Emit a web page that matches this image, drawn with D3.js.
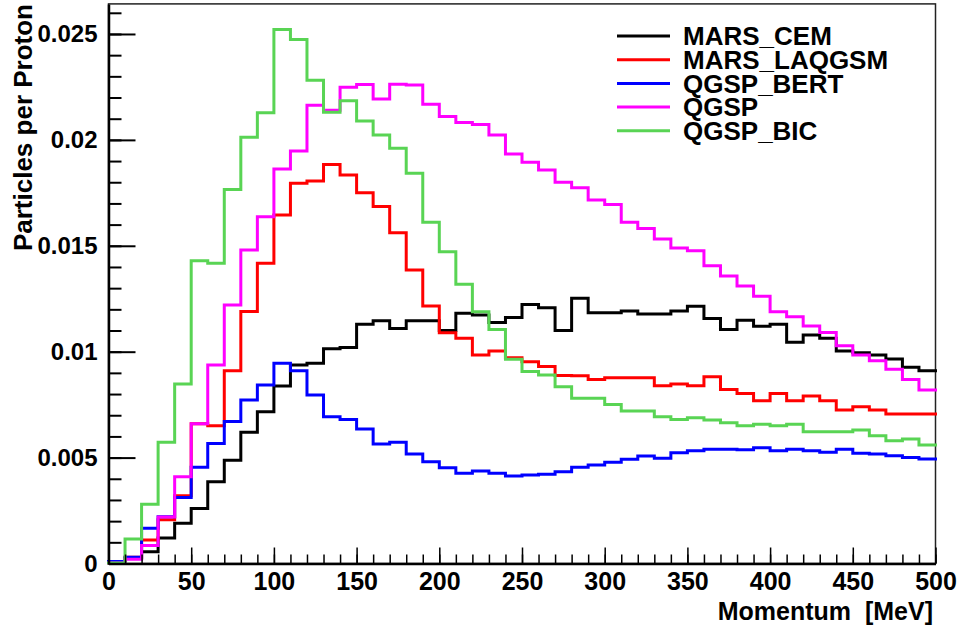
<!DOCTYPE html>
<html><head><meta charset="utf-8">
<script src="https://cdn.jsdelivr.net/npm/d3@7/dist/d3.min.js"></script>
<style>
body{margin:0;background:#fff}
text{font-family:"Liberation Sans",Arial,Helvetica,sans-serif;font-weight:bold;fill:#000}
</style>
</head><body>
<svg id="chart" width="962" height="629"></svg>
<script>
// Momentum bin lower edges [MeV]
const binStarts = [0,10,20,30,40,50,60,70,80,90,100,110,120,130,140,150,160,170,180,190,
  200,210,220,230,240,250,260,270,280,290,300,310,320,330,340,350,360,370,380,390,
  400,410,420,430,440,450,460,470,480,490];
const xMax = 500;

const seriesNames = ["MARS_CEM","MARS_LAQGSM","QGSP_BERT","QGSP","QGSP_BIC"];

const marsCEM = [0.00004,0.00024,0.00056,0.0012,0.0019,0.0026,0.00386,0.00487,0.0062,0.00717,
  0.00838,0.00937,0.00945,0.01014,0.0102,0.0113,0.01146,0.0111,0.01146,0.01146,
  0.011,0.01181,0.01173,0.01138,0.01162,0.01223,0.01207,0.011,0.01252,0.01184,
  0.01184,0.01192,0.01178,0.01178,0.01192,0.01215,0.01157,0.01105,0.01149,0.0112,
  0.0113,0.01044,0.01079,0.01063,0.01003,0.00995,0.00984,0.00965,0.00926,0.0091];

const marsLAQGSM = [0.00004,0.0003,0.00111,0.00207,0.0032,0.0066,0.0065,0.0091,0.0119,0.01417,
  0.01645,0.01795,0.01806,0.01884,0.01834,0.0175,0.01685,0.01562,0.01386,0.01216,
  0.0109,0.01063,0.00984,0.01003,0.00971,0.00952,0.0093,0.00888,0.00886,0.00869,
  0.00877,0.00877,0.00877,0.00839,0.00847,0.00839,0.00882,0.00822,0.00803,0.00768,
  0.00803,0.00768,0.00791,0.00768,0.00725,0.0074,0.00725,0.00706,0.00706,0.00706];

const qgspBERT = [0.0001,0.0003,0.00166,0.00221,0.00312,0.00454,0.00566,0.0067,0.00772,0.00843,
  0.00945,0.0091,0.00795,0.00693,0.0068,0.00635,0.00564,0.00572,0.00517,0.0048,
  0.00452,0.00426,0.00437,0.00426,0.00413,0.00418,0.00421,0.00433,0.00454,0.00465,
  0.00478,0.00492,0.00507,0.00497,0.00523,0.00532,0.00539,0.00539,0.00537,0.00547,
  0.00532,0.00539,0.00532,0.00525,0.00539,0.0052,0.00517,0.00509,0.00501,0.00493];

const qgsp = [0.00002,0.0002,0.00085,0.0022,0.0041,0.0066,0.00937,0.0122,0.0148,0.01637,
  0.01862,0.01947,0.02164,0.0214,0.02248,0.02262,0.02193,0.02263,0.02259,0.02168,
  0.0211,0.02082,0.02073,0.02023,0.01933,0.01894,0.01858,0.018,0.01774,0.01716,
  0.01695,0.01611,0.01582,0.01532,0.0149,0.01476,0.01406,0.01357,0.0131,0.01262,
  0.01189,0.01165,0.01121,0.01091,0.01028,0.00984,0.00957,0.00917,0.00869,0.00819];

const qgspBIC = [0.00002,0.00116,0.0028,0.00573,0.00848,0.01429,0.01417,0.01766,0.02012,0.02128,
  0.02521,0.02474,0.02282,0.0213,0.02185,0.02089,0.02023,0.0196,0.01842,0.01611,
  0.01472,0.01318,0.01189,0.01105,0.00964,0.00906,0.0089,0.00835,0.0078,0.0078,
  0.00751,0.0072,0.0072,0.00693,0.0068,0.00688,0.00677,0.00665,0.0065,0.00658,
  0.0065,0.00657,0.00622,0.00622,0.00622,0.0063,0.00603,0.0058,0.00588,0.0056];

const seriesValues = [marsCEM, marsLAQGSM, qgspBERT, qgsp, qgspBIC];
const seriesColors = ["#000000","#ff0000","#0000ff","#ff00ff","#59d454"];

const xTickValues = [0,50,100,150,200,250,300,350,400,450,500];
const xTickLabels = ["0","50","100","150","200","250","300","350","400","450","500"];
const yTickValues = [0,0.005,0.01,0.015,0.02,0.025];
const yTickLabels = ["0","0.005","0.01","0.015","0.02","0.025"];
const yMax = 0.02642;
const xTitle = "Momentum  [MeV]";
const yTitle = "Particles per Proton";

const L = 108.5, R = 935.5, T = 3.9, B = 563.5;
const svg = d3.select("#chart");
const x = d3.scaleLinear().domain([0, xMax]).range([L, R]);
const y = d3.scaleLinear().domain([0, yMax]).range([B, T]);

// frame
svg.append("rect").attr("x", L).attr("y", T).attr("width", R - L).attr("height", B - T)
  .attr("fill", "none").attr("stroke", "#222").attr("stroke-width", 1.5);

// histograms
const line = d3.line().x(d => x(d[0])).y(d => y(d[1])).curve(d3.curveStepAfter);
seriesValues.forEach((vals, s) => {
  const pts = binStarts.map((b, i) => [b, vals[i]]);
  pts.push([xMax, vals[vals.length - 1]]);
  svg.append("path").attr("d", line(pts)).attr("fill", "none")
    .attr("stroke", seriesColors[s]).attr("stroke-width", 3)
    .attr("stroke-linejoin", "miter").attr("stroke-linecap", "square");
});

// y axis minor ticks
const yMinor = d3.range(0, 0.0265, 0.001);
svg.append("g").attr("transform", `translate(${L},0)`)
  .call(d3.axisLeft(y).tickValues(yMinor).tickSizeInner(-13).tickSizeOuter(0).tickFormat(""))
  .call(g => { g.select(".domain").remove(); g.selectAll("line").attr("stroke", "#000").attr("stroke-width", 2); });
// y axis major
svg.append("g").attr("transform", `translate(${L},0)`)
  .call(d3.axisLeft(y).tickValues(yTickValues).tickSizeInner(-27).tickSizeOuter(0).tickPadding(11)
    .tickFormat((d, i) => yTickLabels[i]))
  .call(g => {
    g.select(".domain").attr("stroke", "#000").attr("stroke-width", 2.5);
    g.selectAll("line").attr("stroke", "#000").attr("stroke-width", 2);
    g.selectAll("text").style("font-size", "24px");
  });

// x axis minor ticks
const xMinor = d3.range(0, 501, 10);
svg.append("g").attr("transform", `translate(0,${B})`)
  .call(d3.axisBottom(x).tickValues(xMinor).tickSizeInner(-9).tickSizeOuter(0).tickFormat(""))
  .call(g => { g.select(".domain").remove(); g.selectAll("line").attr("stroke", "#000").attr("stroke-width", 1.5); });
// x axis major
svg.append("g").attr("transform", `translate(0,${B})`)
  .call(d3.axisBottom(x).tickValues(xTickValues).tickSizeInner(-16).tickSizeOuter(0).tickPadding(9)
    .tickFormat((d, i) => xTickLabels[i]))
  .call(g => {
    g.select(".domain").attr("stroke", "#000").attr("stroke-width", 2.5);
    g.selectAll("line").attr("stroke", "#000").attr("stroke-width", 1.5);
    g.selectAll("text").style("font-size", "25px");
  });
svg.selectAll(".tick text").attr("font-family", null);

// axis titles
svg.append("text").attr("x", 933).attr("y", 620).attr("text-anchor", "end")
  .style("font-size", "25px").style("white-space", "pre").attr("xml:space", "preserve").text(xTitle);
svg.append("text").attr("transform", "translate(32,4) rotate(-90)").attr("text-anchor", "end")
  .style("font-size", "26px").text(yTitle);

// legend
const legY0 = 36, legDy = 23.7;
seriesNames.forEach((name, i) => {
  const yy = legY0 + i * legDy;
  svg.append("line").attr("x1", 617).attr("x2", 670).attr("y1", yy).attr("y2", yy)
    .attr("stroke", seriesColors[i]).attr("stroke-width", 3);
  svg.append("text").attr("x", 683).attr("y", yy).attr("dy", "0.36em")
    .style("font-size", "26px").text(name);
});
</script>
</body></html>
